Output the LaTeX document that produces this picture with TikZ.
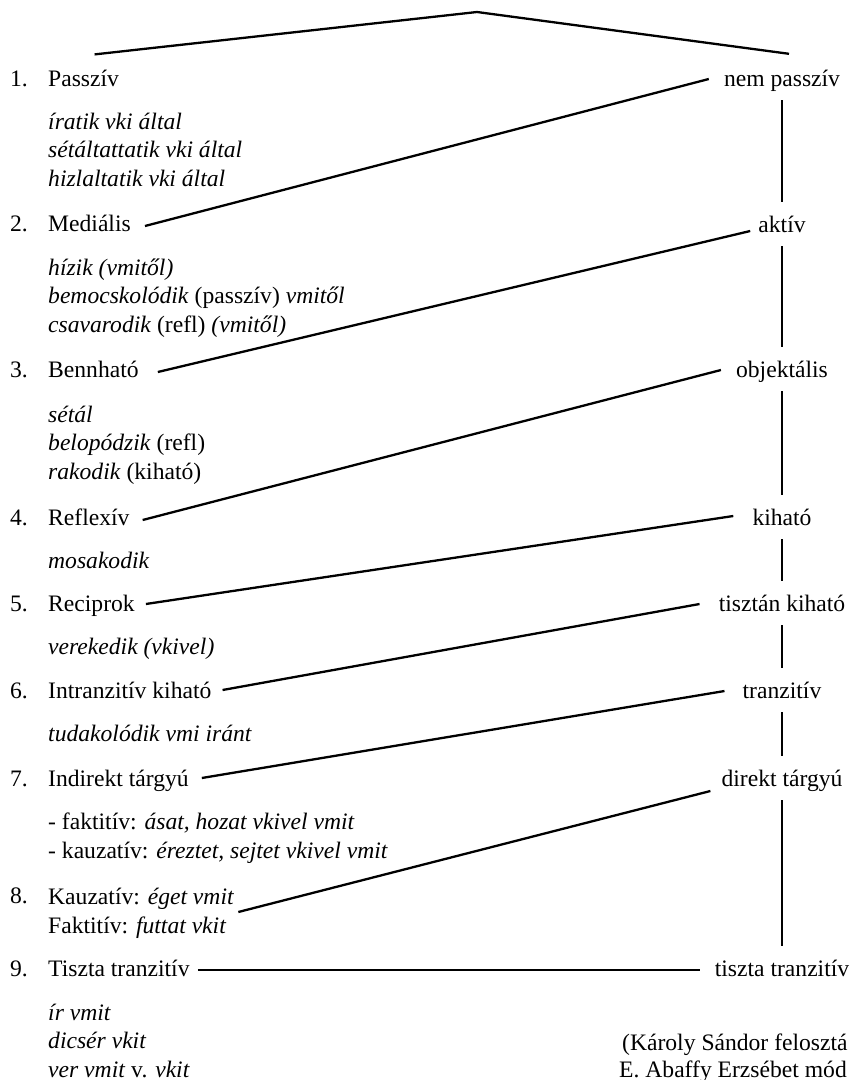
\documentclass[tikz,border=0pt]{standalone}
\usepackage{fontspec}
\setmainfont{Liberation Serif}
\begin{document}
\begin{tikzpicture}[x=1pt,y=-1pt,
  txt/.style={anchor=base west,inner sep=0pt,align=left,font=\fontsize{23.6}{28.4}\selectfont},
  num/.style={anchor=base west,inner sep=0pt,font=\fontsize{23.6}{28.4}\selectfont},
  rlab/.style={anchor=base,inner xsep=0pt,inner ysep=9pt,text height=17pt,text depth=5pt,font=\fontsize{23.6}{28.4}\selectfont},
  dline/.style={line width=2.3pt},
  vline/.style={line width=1.6pt,shorten >=4pt},
  hline/.style={line width=2pt}]
\useasboundingbox (0,0) rectangle (850,1080);
% left column: numbers
\node[num] (n1) at (10,86) {1.};
\node[num] (n2) at (10,231) {2.};
\node[num] (n3) at (10,377) {3.};
\node[num] (n4) at (10,525) {4.};
\node[num] (n5) at (10,611) {5.};
\node[num] (n6) at (10,698) {6.};
\node[num] (n7) at (10,786) {7.};
\node[num] (n8) at (10,903) {8.};
\node[num] (n9) at (10,976) {9.};
% left column: items (multi-line nodes are placed by the baseline of their last line)
\node[txt] (p1) at (48,86) {Passzív};
\node[txt] (e1) at (48,186) {\textit{íratik vki által}\\\textit{sétáltattatik vki által}\\\textit{hizlaltatik vki által}};
\node[txt] (p2) at (48,231) {Mediális};
\node[txt] (e2) at (48,332) {\textit{hízik (vmitől)}\\\textit{bemocskolódik} (passzív) \textit{vmitől}\\\textit{csavarodik} (refl) \textit{(vmitől)}};
\node[txt] (p3) at (48,377) {Bennható};
\node[txt] (e3) at (48,479) {\textit{sétál}\\\textit{belopódzik} (refl)\\\textit{rakodik} (kiható)};
\node[txt] (p4) at (48,525) {Reflexív};
\node[txt] (e4) at (48,568) {\textit{mosakodik}};
\node[txt] (p5) at (48,611) {Reciprok};
\node[txt] (e5) at (48,654) {\textit{verekedik (vkivel)}};
\node[txt] (p6) at (48,698) {Intranzitív kiható};
\node[txt] (e6) at (48,741) {\textit{tudakolódik vmi iránt}};
\node[txt] (p7) at (48,786) {Indirekt tárgyú};
\node[txt] (e7) at (48,858) {- faktitív: \textit{ásat, hozat vkivel vmit}\\- kauzatív: \textit{éreztet, sejtet vkivel vmit}};
\node[txt] (p8) at (48,933) {Kauzatív: \textit{éget vmit}\\Faktitív: \textit{futtat vkit}};
\node[txt] (p9) at (48,976) {Tiszta tranzitív};
\node[txt] (e9) at (48,1077) {\textit{ír vmit}\\\textit{dicsér vkit}\\\textit{ver vmit} v. \textit{vkit}};
% right column
\node[rlab] (r1) at (782,86) {nem passzív};
\node[rlab] (r2) at (782,232) {aktív};
\node[rlab] (r3) at (782,377) {objektális};
\node[rlab] (r4) at (782,525) {kiható};
\node[rlab] (r5) at (782,611) {tisztán kiható};
\node[rlab] (r6) at (782,698) {tranzitív};
\node[rlab] (r7) at (782,786) {direkt tárgyú};
\node[rlab] (r8) at (782,976) {tiszta tranzitív};
% citation
\node[txt] (c1) at (622,1050) {(Károly Sándor felosztá};
\node[txt] (c2) at (619,1077) {E. Abaffy Erzsébet mód};
% top fork
\coordinate (apex) at (477,12);
\draw[dline] ([xshift=11pt,yshift=15pt]p1.north) -- (apex) -- ([xshift=7pt,yshift=6pt]r1.north);
% vertical chain
\draw[vline] (r1.south) -- (r2.north);
\draw[vline] (r2.south) -- (r3.north);
\draw[vline] (r3.south) -- (r4.north);
\draw[vline] (r4.south) -- (r5.north);
\draw[vline] (r5.south) -- (r6.north);
\draw[vline] (r6.south) -- (r7.north);
\draw[vline] (r7.south) -- (r8.north);
% diagonal connectors
\draw[dline] ([xshift=14pt,yshift=5pt]p2.base east) -- ([xshift=-15pt,yshift=7pt]r1.base west);
\draw[dline] ([xshift=19pt,yshift=5pt]p3.base east) -- ([xshift=-8pt,yshift=1pt]r2.base west);
\draw[dline] ([xshift=13pt,yshift=5pt]p4.base east) -- ([xshift=-15pt,yshift=7pt]r3.base west);
\draw[dline] ([xshift=11pt,yshift=7pt]p5.base east) -- ([xshift=-19pt,yshift=9pt]r4.base west);
\draw[dline] ([xshift=11pt,yshift=8pt]p6.base east) -- ([xshift=-19pt,yshift=7pt]r5.base west);
\draw[dline] ([xshift=13pt,yshift=8pt]p7.base east) -- ([xshift=-18pt,yshift=7pt]r6.base west);
\draw[dline] ([xshift=4pt,yshift=21pt]p8.base east) -- ([xshift=-11pt,yshift=-5pt]r7.base west);
\draw[hline] ([xshift=8pt,yshift=6pt]p9.base east) -- ([xshift=-15pt,yshift=6pt]r8.base west);
\end{tikzpicture}
\end{document}
